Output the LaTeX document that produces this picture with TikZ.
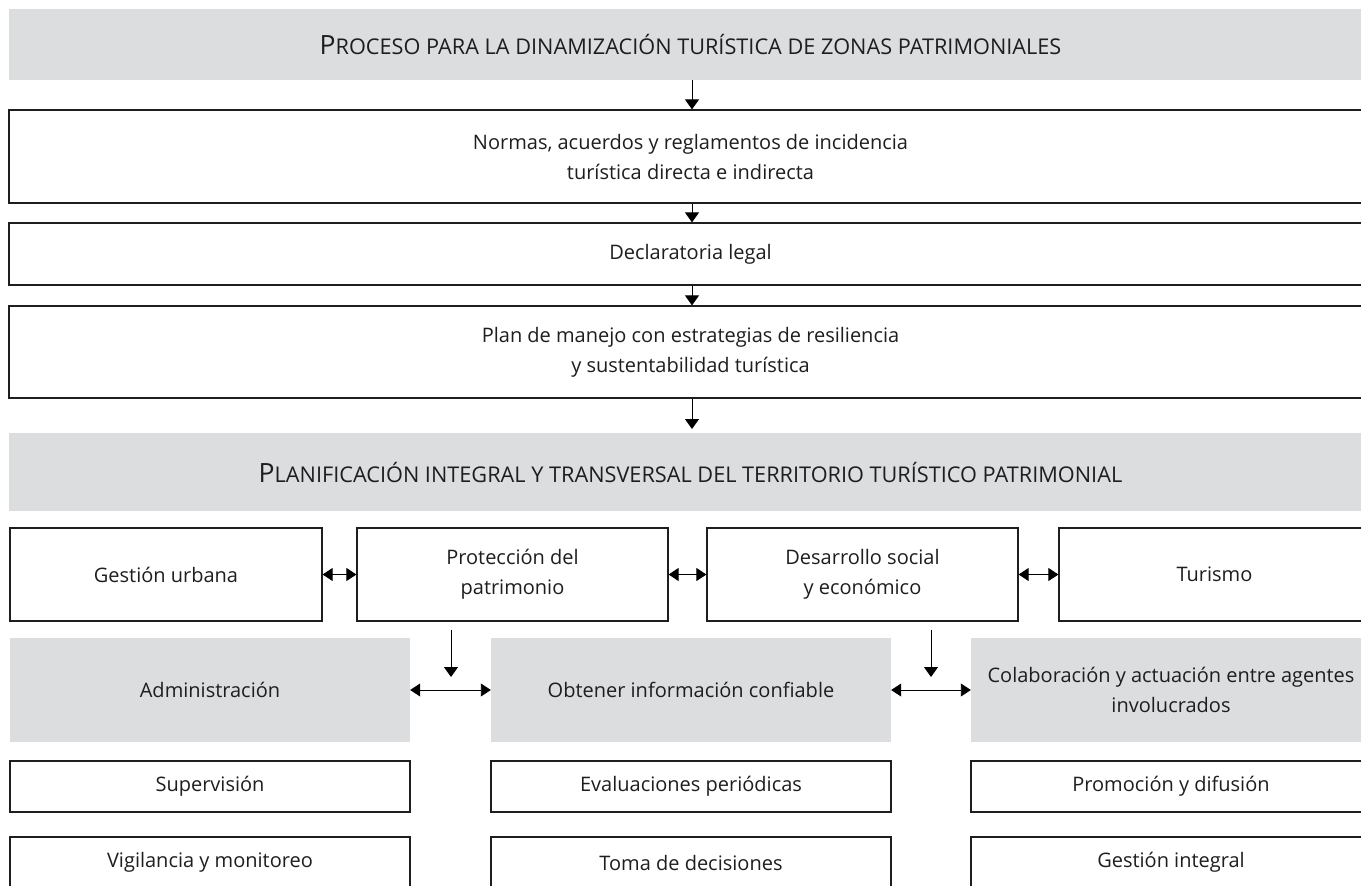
\documentclass[tikz,border=0pt]{standalone}
\usepackage{fontspec}
\setmainfont{Open Sans}
\usetikzlibrary{arrows.meta}
\definecolor{bargray}{RGB}{220,221,223}
\definecolor{linecol}{RGB}{30,30,30}
\newcommand\fakesc[2]{{\fontsize{26.5}{34}\selectfont #1}{\fontsize{21.7}{34}\selectfont #2}}
\tikzset{
  box/.style={draw=linecol, line width=1.2pt, fill=white, inner sep=0pt, align=center,
    font=\fontsize{20}{30}\selectfont, text=linecol},
  graybox/.style={fill=bargray, draw=none, inner sep=0pt, align=center,
    font=\fontsize{20}{30}\selectfont, text=linecol},
  arr/.style={draw=black, line width=0.9pt, -{Triangle[width=14pt,length=10pt]}},
  darr/.style={draw=black, line width=0.9pt, {Triangle[width=13pt,length=10pt]}-{Triangle[width=13pt,length=10pt]}},
}
\begin{document}
\begin{tikzpicture}[x=1pt,y=-1pt]
\useasboundingbox (0,0) rectangle (1361,886);
% full width blocks
\node[graybox, minimum width=1363pt, minimum height=71pt] (title) at (690.5,44.5)
  {\fakesc{P}{ROCESO PARA LA DINAMIZACIÓN TURÍSTICA DE ZONAS PATRIMONIALES}};
\node[box, minimum width=1363pt, minimum height=93pt] (normas) at (690.5,156.5)
  {Normas, acuerdos y reglamentos de incidencia\\turística directa e indirecta};
\node[box, minimum width=1363pt, minimum height=62pt] (decl) at (690.5,254)
  {Declaratoria legal};
\node[box, minimum width=1363pt, minimum height=92pt] (plan) at (690.5,352)
  {Plan de manejo con estrategias de resiliencia\\y sustentabilidad turística};
\node[graybox, minimum width=1363pt, minimum height=78pt] (plani) at (690.5,472)
  {\fakesc{P}{LANIFICACIÓN INTEGRAL Y TRANSVERSAL DEL TERRITORIO TURÍSTICO PATRIMONIAL}};
% row of four
\node[box, minimum width=312pt, minimum height=93pt] (gest) at (166,574.5) {Gestión urbana};
\node[box, minimum width=311pt, minimum height=93pt] (prot) at (512.5,574.5) {Protección del\\patrimonio};
\node[box, minimum width=311pt, minimum height=93pt] (desa) at (862.5,574.5) {Desarrollo social\\y económico};
\node[box, minimum width=311pt, minimum height=93pt] (turi) at (1214.5,574.5) {Turismo};
% gray row
\node[graybox, minimum width=400pt, minimum height=104pt] (admin) at (210,690) {Administración};
\node[graybox, minimum width=400pt, minimum height=104pt] (obt) at (691,690) {Obtener información confiable};
\node[graybox, minimum width=400pt, minimum height=104pt] (colab) at (1171,690) {Colaboración y actuación entre agentes\\involucrados};
% bottom boxes
\node[box, minimum width=400pt, minimum height=51pt] (sup) at (210,786.5) {Supervisión};
\node[box, minimum width=400pt, minimum height=51pt] (eval) at (691,786.5) {Evaluaciones periódicas};
\node[box, minimum width=400pt, minimum height=51pt] (prom) at (1171,786.5) {Promoción y difusión};
\node[box, minimum width=400pt, minimum height=51pt] (vig) at (210,862.5) {Vigilancia y monitoreo};
\node[box, minimum width=400pt, minimum height=51pt] (toma) at (691,862.5) {Toma de decisiones};
\node[box, minimum width=400pt, minimum height=51pt] (gint) at (1171,862.5) {Gestión integral};
% vertical arrows
\draw[arr] ([xshift=1.5pt]title.south) -- ([xshift=1.5pt]normas.north);
\draw[arr] ([xshift=1.5pt]normas.south) -- ([xshift=1.5pt]decl.north);
\draw[arr] ([xshift=1.5pt]decl.south) -- ([xshift=1.5pt]plan.north);
\coordinate (pend) at (692,429);
\draw[arr] ([xshift=1.5pt]plan.south) -- (pend);
% row arrows
\draw[darr] (gest.east) -- (prot.west);
\draw[darr] (prot.east) -- (desa.west);
\draw[darr] (desa.east) -- (turi.west);
% down arrows in gaps
\coordinate (d1s) at (451,630);
\coordinate (d1e) at (451,677);
\coordinate (d2s) at (931,630);
\coordinate (d2e) at (931,677);
\draw[arr] (d1s) -- (d1e);
\draw[arr] (d2s) -- (d2e);
\draw[darr] (admin.east) -- (obt.west);
\draw[darr] (obt.east) -- (colab.west);
\end{tikzpicture}
\end{document}
